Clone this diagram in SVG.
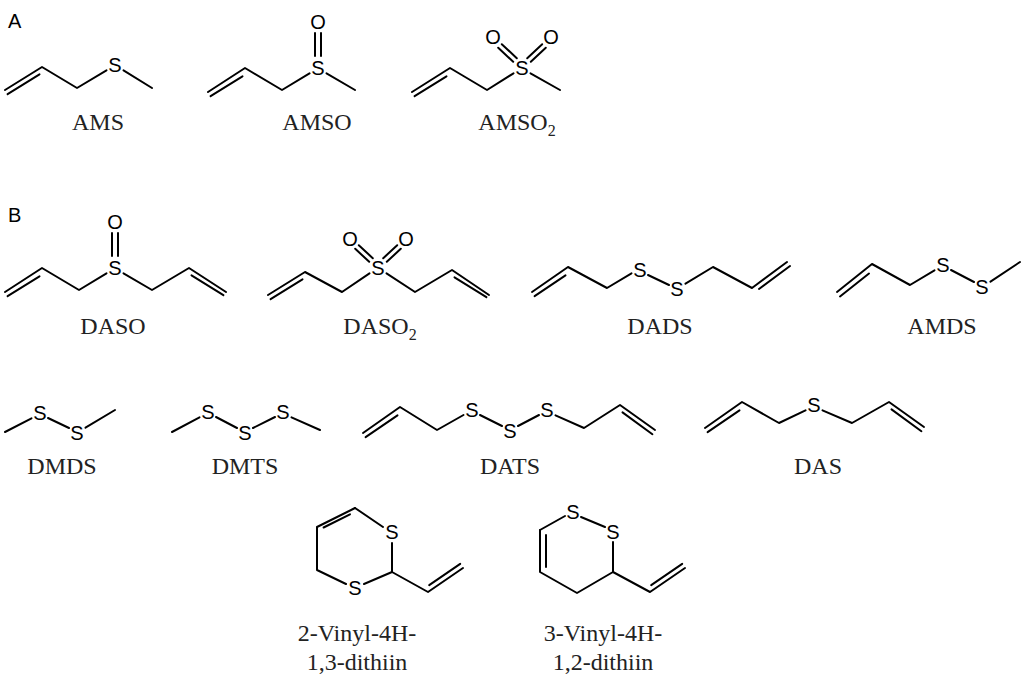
<svg xmlns="http://www.w3.org/2000/svg" width="1024" height="676" viewBox="0 0 1024 676">
<style>
line,polyline{stroke:#000;stroke-width:2;fill:none;stroke-linecap:round;stroke-linejoin:round}
.a{font-family:"Liberation Sans",Arial,sans-serif;font-size:20px;text-anchor:middle;dominant-baseline:central}
.p{font-family:"Liberation Sans",Arial,sans-serif;font-size:20px}
.n{font-family:"Liberation Serif","Times New Roman",serif;font-size:24px;text-anchor:middle;fill:#222}
</style>
<rect width="1024" height="676" fill="#fff"/>
<text class="p" x="8" y="28">A</text>
<text class="p" x="8" y="222">B</text>
<g id="AMS">
<polyline points="5,90 42,67 77,88 106.5,70.3"/><line x1="7.6" y1="94.2" x2="39.5" y2="74.4"/>
<line x1="123.5" y1="70.3" x2="152" y2="88"/>
<text class="a" x="115" y="65">S</text><text class="n" x="98" y="130">AMS</text></g>
<g id="AMSO">
<polyline points="208,92 245,68 282,90 309.5,73.3"/><line x1="210.6" y1="96.2" x2="242.5" y2="76.4"/>
<line x1="326.5" y1="73.3" x2="355" y2="90"/>
<line x1="315" y1="33" x2="315" y2="56"/><line x1="321" y1="33" x2="321" y2="56"/>
<text class="a" x="318" y="68">S</text><text class="a" x="318" y="22">O</text>
<text class="n" x="317" y="130">AMSO</text></g>
<g id="AMSO2">
<polyline points="412,92 450,68 487,90 513.5,73.3"/><line x1="414.6" y1="96.2" x2="446.5" y2="76.4"/>
<line x1="530.5" y1="73.3" x2="560" y2="90"/>
<line x1="516.8" y1="58.2" x2="501.8" y2="44.2"/><line x1="513.2" y1="61.8" x2="498.2" y2="47.8"/>
<line x1="530.8" y1="61.8" x2="545.8" y2="47.8"/><line x1="527.2" y1="58.2" x2="542.2" y2="44.2"/>
<text class="a" x="522" y="68">S</text><text class="a" x="493" y="37">O</text><text class="a" x="551" y="37">O</text>
<text class="n" x="517" y="130">AMSO<tspan font-size="16" dy="6">2</tspan></text></g>
<g id="DASO">
<polyline points="5,292 42,268 79,290 106.5,273.3"/><line x1="7.6" y1="296.2" x2="39.5" y2="276.4"/>
<polyline points="123.5,273.3 152,290 189,268 226,292"/><line x1="191.5" y1="275.4" x2="223.4" y2="295.2"/>
<line x1="112" y1="233" x2="112" y2="256"/><line x1="118" y1="233" x2="118" y2="256"/>
<text class="a" x="115" y="268">S</text><text class="a" x="115" y="222">O</text>
<text class="n" x="113" y="334">DASO</text></g>
<g id="DASO2">
<polyline points="268,295 305,272 342,292 369.5,273.3"/><line x1="270.6" y1="299.2" x2="302.5" y2="279.4"/>
<polyline points="386.5,273.3 415,292 452,270 489,295"/><line x1="454.5" y1="277.4" x2="486.4" y2="297.2"/>
<line x1="372.8" y1="258.2" x2="358.8" y2="245.2"/><line x1="369.2" y1="261.8" x2="355.2" y2="248.8"/>
<line x1="386.8" y1="261.8" x2="400.8" y2="248.8"/><line x1="383.2" y1="258.2" x2="397.2" y2="245.2"/>
<text class="a" x="378" y="268">S</text><text class="a" x="350" y="239">O</text><text class="a" x="406" y="239">O</text>
<text class="n" x="380" y="334">DASO<tspan font-size="16" dy="6">2</tspan></text></g>
<g id="DADS">
<polyline points="532,292 568,267 607,288 631.5,273.3"/><line x1="534.6" y1="296.2" x2="565.5" y2="275.4"/>
<line x1="648" y1="275" x2="669" y2="285"/>
<polyline points="685.5,283.7 713,267 752,288 787,262"/><line x1="759" y1="289" x2="790" y2="266"/>
<text class="a" x="640" y="270">S</text><text class="a" x="677" y="289">S</text>
<text class="n" x="660" y="334">DADS</text></g>
<g id="AMDS">
<polyline points="837,292 872,264 910,285 934.5,270.3"/><line x1="840" y1="296.5" x2="869" y2="273.5"/>
<line x1="951" y1="270" x2="974" y2="282"/><line x1="990.5" y1="281.7" x2="1020" y2="262"/>
<text class="a" x="943" y="265">S</text><text class="a" x="982" y="287">S</text>
<text class="n" x="942" y="334">AMDS</text></g>
<g id="DMDS">
<line x1="5" y1="432" x2="31.5" y2="418.3"/><line x1="48" y1="418" x2="69" y2="428"/><line x1="85.5" y1="427.7" x2="115" y2="410"/>
<text class="a" x="40" y="413">S</text><text class="a" x="77" y="433">S</text>
<text class="n" x="62" y="474">DMDS</text></g>
<g id="DMTS">
<line x1="172" y1="432" x2="199.5" y2="417.3"/><line x1="216" y1="417" x2="237" y2="428"/><line x1="253" y1="428" x2="275" y2="417"/><line x1="291.5" y1="417.3" x2="320" y2="430"/>
<text class="a" x="208" y="412">S</text><text class="a" x="245" y="433">S</text><text class="a" x="283" y="412">S</text>
<text class="n" x="245" y="474">DMTS</text></g>
<g id="DATS">
<polyline points="363,433 400,407 437,430 463.5,415"/><line x1="365.6" y1="437.2" x2="397.5" y2="415.4"/>
<line x1="480" y1="415" x2="502" y2="426"/><line x1="518" y1="426" x2="539" y2="415"/>
<polyline points="555.5,415.3 584,428 620,405 655,430"/><line x1="622.5" y1="412.4" x2="652.4" y2="434.2"/>
<text class="a" x="472" y="410">S</text><text class="a" x="510" y="431">S</text><text class="a" x="547" y="410">S</text>
<text class="n" x="510" y="474">DATS</text></g>
<g id="DAS">
<polyline points="705,428 742,402 779,423 805.5,410.3"/><line x1="707.6" y1="432.2" x2="739.5" y2="410.4"/>
<polyline points="822.5,410.3 852,423 889,402 924,427"/><line x1="891.5" y1="409.4" x2="921.4" y2="431.2"/>
<text class="a" x="814" y="405">S</text>
<text class="n" x="818" y="474">DAS</text></g>
<g id="vinyl13dithiin">
<line x1="383" y1="527" x2="355" y2="508"/>
<polyline points="355,508 317,527 317,570 346,584"/><line x1="350" y1="514.3" x2="323.6" y2="527.5"/>
<line x1="364" y1="584" x2="392" y2="572"/><line x1="392" y1="572" x2="392" y2="543"/>
<polyline points="392,572 428,592 463,568"/><line x1="429.2" y1="585.1" x2="460.2" y2="563.9"/>
<text class="a" x="392" y="532">S</text><text class="a" x="355" y="588">S</text>
<text class="n" x="357" y="641">2-Vinyl-4H-</text><text class="n" x="357" y="670">1,3-dithiin</text></g>
<g id="vinyl12dithiin">
<line x1="540" y1="530" x2="565" y2="516"/><line x1="581" y1="517" x2="605" y2="527"/>
<polyline points="613,542 613,572 577,593 540,572 540,530"/><line x1="546" y1="535" x2="546" y2="567"/>
<polyline points="613,572 650,592 685,568"/><line x1="651.2" y1="585.1" x2="682.2" y2="563.9"/>
<text class="a" x="573" y="512">S</text><text class="a" x="613" y="532">S</text>
<text class="n" x="603" y="641">3-Vinyl-4H-</text><text class="n" x="603" y="670">1,2-dithiin</text></g>
</svg>
